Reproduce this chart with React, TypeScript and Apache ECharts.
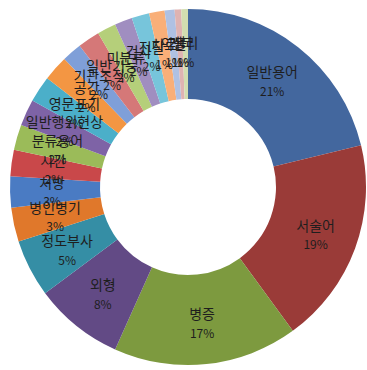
import React, { useEffect, useRef } from "react";
import * as echarts from "echarts";

const categories = [
  "일반용어", "서술어", "병증", "외형", "정도부사", "병인병기", "처방", "시간",
  "분류용어", "일반행위현상", "영문표기", "공간", "기관조직", "일반기능", "미분류",
  "검사", "전달", "치료", "약물", "기타", "생리",
];
const values = [
  21.2, 18.7, 16.7, 8.1, 5.2, 3.1, 2.8, 2.4,
  2.3, 2.4, 2.4, 2.3, 1.8, 2.0, 1.7,
  1.6, 1.6, 1.4, 0.9, 0.6, 0.6,
];
const colors = [
  "#43679E", "#9A3B38", "#7D9A3F", "#624A85", "#358EA5", "#E0782B", "#4A7BC3", "#C9484A",
  "#9BBB59", "#7E63A6", "#4BAFC9", "#F39643", "#7F9FD8", "#D57878", "#B5CF7A",
  "#A08EC0", "#77C5DB", "#F9AF78", "#AFC1E3", "#DFB3B2", "#D2DDB0",
];

export default function App() {
  const ref = useRef<HTMLDivElement>(null);
  useEffect(() => {
    document.body.style.margin = "0";
    const chart = echarts.init(ref.current!, undefined, { renderer: "svg" });
    chart.setOption({
      animation: false,
      backgroundColor: "#ffffff",
      color: colors,
      series: [
        {
          type: "pie",
          center: [188, 187],
          radius: [88, 178],
          startAngle: 90,
          clockwise: true,
          avoidLabelOverlap: false,
          itemStyle: { borderWidth: 0 },
          label: {
            show: true,
            position: "inside",
            color: "#1e1e1e",
            fontFamily: "Noto Sans CJK KR",
            formatter: (p: any) => `{n|${p.name}}\n{p|${Math.round(p.percent)}%}`,
            rich: {
              n: { fontSize: 14, lineHeight: 20, color: "#1e1e1e", fontFamily: "Noto Sans CJK KR" },
              p: { fontSize: 12, lineHeight: 18, color: "#1e1e1e", fontFamily: "Noto Sans CJK KR" },
            },
          },
          labelLayout: { hideOverlap: false },
          labelLine: { show: false },
          emphasis: { disabled: true },
          data: categories.map((c, i) => ({ name: c, value: values[i] })),
        },
      ],
    });
    return () => chart.dispose();
  }, []);
  return <div ref={ref} style={{ width: 367, height: 370 }} />;
}
